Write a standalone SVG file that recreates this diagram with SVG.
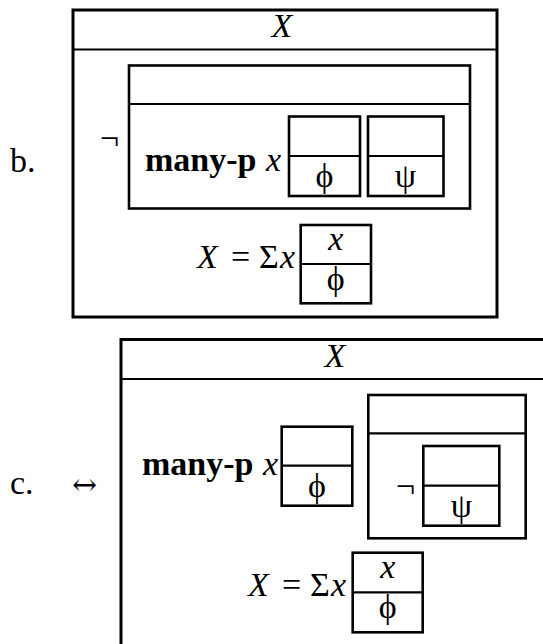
<svg xmlns="http://www.w3.org/2000/svg" width="543" height="644" viewBox="0 0 543 644">
<style>
.box{fill:none;stroke:#000;stroke-width:2.6}
.outer{fill:none;stroke:#000;stroke-width:3}
.div{stroke:#000;stroke-width:2.2}
text{font-family:"Liberation Serif","Times New Roman",serif;font-size:34px;fill:#000}
.it{font-style:italic}
.bf{font-weight:bold}
.mid{text-anchor:middle}
.arr{font-family:"DejaVu Serif","DejaVu Sans",serif;font-size:30px}
</style>
<rect width="543" height="644" fill="#fff"/>
<g id="label-b"><text x="10" y="172">b.</text></g>
<g id="drs-b">
<rect class="outer" x="73" y="10" width="424" height="307"/>
<line class="div" x1="73" y1="49.5" x2="497" y2="49.5"/>
<text class="it mid" x="282" y="37">X</text>
<text x="100" y="149">¬</text>
<g id="b-neg-box">
<rect class="box" x="129" y="65.5" width="341" height="143"/>
<line class="div" x1="129" y1="104" x2="470" y2="104"/>
<text class="bf" x="145" y="171">many-p</text>
<text class="it" x="266" y="171">x</text>
<g id="b-phi">
<rect class="box" x="289" y="116.5" width="71" height="79.5"/>
<line class="div" x1="289" y1="156" x2="360" y2="156"/>
<text class="mid" x="324.5" y="187">ϕ</text>
</g>
<g id="b-psi">
<rect class="box" x="368" y="116.5" width="75.5" height="79.5"/>
<line class="div" x1="368" y1="156" x2="443.5" y2="156"/>
<text class="mid" x="405.5" y="187">ψ</text>
</g>
</g>
<text y="268"><tspan class="it" x="197">X</tspan><tspan x="231">=</tspan><tspan x="259">Σ</tspan><tspan class="it" x="280">x</tspan></text>
<g id="b-sigma">
<rect class="box" x="300.7" y="225" width="70.3" height="78.3"/>
<line class="div" x1="300.7" y1="264" x2="371" y2="264"/>
<text class="it mid" x="335.8" y="250">x</text>
<text class="mid" x="335.8" y="290">ϕ</text>
</g>
</g>
<g id="label-c"><text x="10" y="494">c.</text><text class="arr" x="72" y="495">↔</text></g>
<g id="drs-c">
<rect class="outer" x="121" y="339.5" width="450" height="330"/>
<line class="div" x1="121" y1="379" x2="543" y2="379"/>
<text class="it mid" x="335" y="367">X</text>
<text class="bf" x="142" y="475">many-p</text>
<text class="it" x="263" y="475">x</text>
<g id="c-phi">
<rect class="box" x="281.7" y="426.7" width="70.6" height="79"/>
<line class="div" x1="281.7" y1="465.7" x2="352.3" y2="465.7"/>
<text class="mid" x="317" y="497">ϕ</text>
</g>
<g id="c-neg-box">
<rect class="box" x="368.3" y="395" width="157.4" height="143.3"/>
<line class="div" x1="368.3" y1="433.3" x2="525.7" y2="433.3"/>
<text x="396" y="497">¬</text>
<g id="c-psi">
<rect class="box" x="423.3" y="446" width="76" height="79.7"/>
<line class="div" x1="423.3" y1="485.7" x2="499.3" y2="485.7"/>
<text class="mid" x="461.3" y="516.5">ψ</text>
</g>
</g>
<text y="596"><tspan class="it" x="248">X</tspan><tspan x="282">=</tspan><tspan x="310">Σ</tspan><tspan class="it" x="331">x</tspan></text>
<g id="c-sigma">
<rect class="box" x="352.7" y="552.7" width="70" height="79.6"/>
<line class="div" x1="352.7" y1="592.3" x2="422.7" y2="592.3"/>
<text class="it mid" x="387.7" y="578">x</text>
<text class="mid" x="387.7" y="618">ϕ</text>
</g>
</g>
</svg>
